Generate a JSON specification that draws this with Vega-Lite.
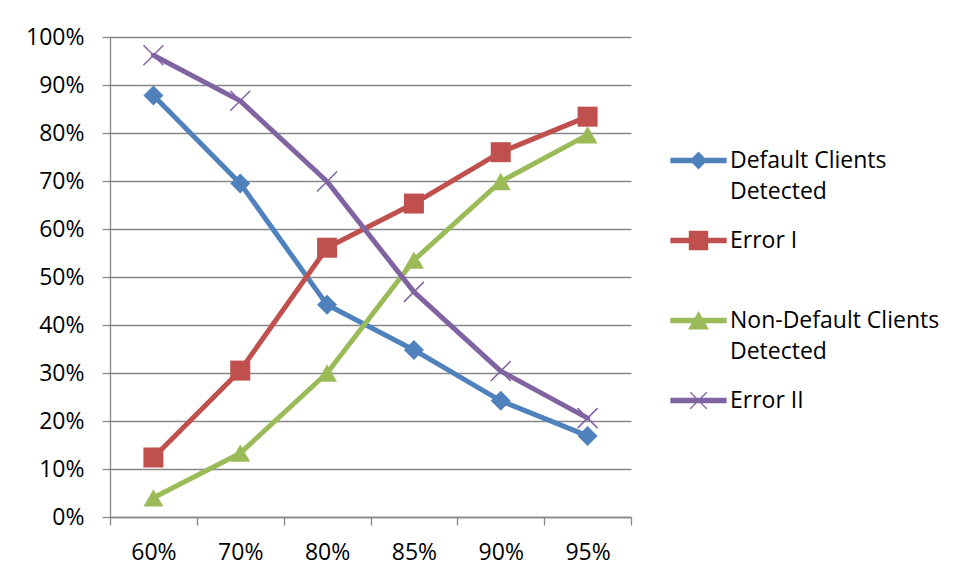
{
  "$schema": "https://vega.github.io/schema/vega-lite/v6.json",
  "width": 521,
  "height": 480,
  "autosize": "none",
  "padding": {"left": 110, "top": 37, "right": 327, "bottom": 61},
  "background": "white",
  "config": {
    "view": {"stroke": null},
    "font": "Open Sans",
    "axis": {
      "labelFont": "Open Sans",
      "labelFontSize": 23,
      "labelColor": "#000000",
      "domainColor": "#888888",
      "domainWidth": 1.3,
      "tickColor": "#888888",
      "tickWidth": 1.3,
      "tickSize": 8,
      "gridColor": "#888888",
      "gridWidth": 1.3,
      "gridOpacity": 1,
      "title": null
    }
  },
  "data": {
    "values": [
      {"threshold": "60%", "series": "Default Clients Detected", "value": 87.8},
      {"threshold": "70%", "series": "Default Clients Detected", "value": 69.5},
      {"threshold": "80%", "series": "Default Clients Detected", "value": 44.2},
      {"threshold": "85%", "series": "Default Clients Detected", "value": 34.8},
      {"threshold": "90%", "series": "Default Clients Detected", "value": 24.2},
      {"threshold": "95%", "series": "Default Clients Detected", "value": 16.9},
      {"threshold": "60%", "series": "Error I", "value": 12.4},
      {"threshold": "70%", "series": "Error I", "value": 30.5},
      {"threshold": "80%", "series": "Error I", "value": 56.1},
      {"threshold": "85%", "series": "Error I", "value": 65.3},
      {"threshold": "90%", "series": "Error I", "value": 76.0},
      {"threshold": "95%", "series": "Error I", "value": 83.4},
      {"threshold": "60%", "series": "Non-Default Clients Detected", "value": 4.0},
      {"threshold": "70%", "series": "Non-Default Clients Detected", "value": 13.3},
      {"threshold": "80%", "series": "Non-Default Clients Detected", "value": 30.0},
      {"threshold": "85%", "series": "Non-Default Clients Detected", "value": 53.5},
      {"threshold": "90%", "series": "Non-Default Clients Detected", "value": 69.9},
      {"threshold": "95%", "series": "Non-Default Clients Detected", "value": 79.6},
      {"threshold": "60%", "series": "Error II", "value": 96.2},
      {"threshold": "70%", "series": "Error II", "value": 86.7},
      {"threshold": "80%", "series": "Error II", "value": 69.9},
      {"threshold": "85%", "series": "Error II", "value": 46.9},
      {"threshold": "90%", "series": "Error II", "value": 30.4},
      {"threshold": "95%", "series": "Error II", "value": 20.6}
    ]
  },
  "encoding": {
    "x": {
      "field": "threshold",
      "type": "ordinal",
      "sort": ["60%", "70%", "80%", "85%", "90%", "95%"],
      "scale": {"type": "band", "paddingInner": 0, "paddingOuter": 0},
      "axis": {"labelAngle": 0, "tickBand": "extent", "grid": false, "labelPadding": 16}
    },
    "y": {
      "field": "value",
      "type": "quantitative",
      "scale": {"domain": [0, 100], "nice": false},
      "axis": {
        "values": [0, 10, 20, 30, 40, 50, 60, 70, 80, 90, 100],
        "labelExpr": "datum.value + '%'",
        "labelPadding": 18,
        "grid": true
      }
    },
    "color": {
      "field": "series",
      "type": "nominal",
      "scale": {
        "domain": ["Default Clients Detected", "Error I", "Non-Default Clients Detected", "Error II"],
        "range": ["#4F81BD", "#C0504D", "#9BBB59", "#8064A2"]
      }
    }
  },
  "layer": [
    {
      "mark": {"type": "line", "strokeWidth": 5, "strokeJoin": "round", "strokeCap": "round"},
      "encoding": {
        "color": {
          "field": "series",
          "type": "nominal",
          "legend": {
            "orient": "none",
            "legendX": 560,
            "legendY": 95,
            "title": null,
            "padding": 0,
            "symbolSize": 3025,
            "symbolStrokeWidth": 1.3,
            "labelFont": "Open Sans",
            "labelFontSize": 23,
            "labelColor": "#000000",
            "labelOffset": 3,
            "labelLimit": 400,
            "rowPadding": 8,
            "gridAlign": "all",
            "labelExpr": "datum.label === 'Default Clients Detected' ? ['Default Clients', 'Detected'] : datum.label === 'Non-Default Clients Detected' ? ['Non-Default Clients', 'Detected'] : datum.label",
            "encode": {
              "symbols": {
                "update": {
                  "shape": {"signal": "datum.value === 'Error I' ? 'M-1,-0.08H1V0.08H-1ZM-0.33,-0.33H0.33V0.33H-0.33Z' : datum.value === 'Non-Default Clients Detected' ? 'M-1,-0.08H1V0.08H-1ZM0,-0.3L0.34,0.3H-0.34Z' : datum.value === 'Error II' ? 'M-1,-0.08H1V0.08H-1ZM-0.3,-0.3L0.3,0.3M-0.3,0.3L0.3,-0.3' : 'M-1,-0.08H1V0.08H-1ZM0,-0.29L0.29,0L0,0.29L-0.29,0Z'"},
                  "fill": {"signal": "scale('color', datum.value)"},
                  "stroke": {"signal": "scale('color', datum.value)"},
                  "strokeWidth": {"value": 1.3}
                }
              },
              "labels": {
                "update": {
                  "lineHeight": {"value": 31}
                }
              }
            }
          }
        }
      }
    },
    {
      "transform": [{"filter": "datum.series !== 'Error II'"}],
      "mark": {"type": "point", "filled": true, "opacity": 1},
      "encoding": {
        "color": {"field": "series", "type": "nominal", "legend": null},
        "shape": {
          "field": "series",
          "type": "nominal",
          "legend": null,
          "scale": {
            "domain": ["Default Clients Detected", "Error I", "Non-Default Clients Detected"],
            "range": ["diamond", "square", "triangle-up"]
          }
        },
        "size": {
          "field": "series",
          "type": "nominal",
          "legend": null,
          "scale": {
            "domain": ["Default Clients Detected", "Error I", "Non-Default Clients Detected"],
            "range": [400, 400, 470]
          }
        }
      }
    },
    {
      "transform": [{"filter": "datum.series === 'Error II'"}],
      "mark": {"type": "point", "filled": false, "opacity": 1, "strokeWidth": 1.5, "size": 400, "shape": "M-1,-1L1,1M-1,1L1,-1"},
      "encoding": {
        "color": {"field": "series", "type": "nominal", "legend": null}
      }
    }
  ]
}
